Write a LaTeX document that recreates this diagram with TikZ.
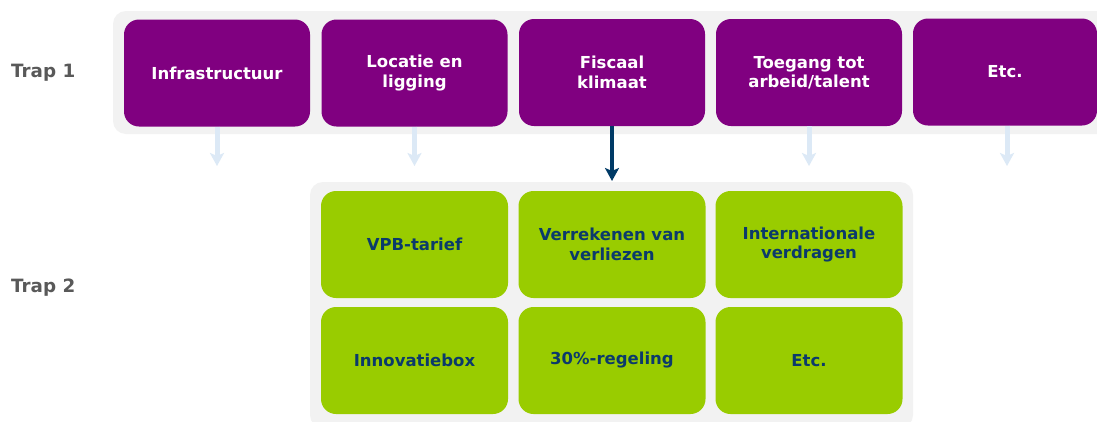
\documentclass[tikz,border=0pt]{standalone}
\usepackage{fontspec}
\setmainfont{DejaVu Sans}
\usetikzlibrary{arrows.meta}
\definecolor{purp}{HTML}{800080}
\definecolor{lgreen}{HTML}{99CC00}
\definecolor{panelgray}{HTML}{F2F2F2}
\definecolor{navy}{HTML}{0B3A6B}
\definecolor{lblue}{HTML}{DCE9F6}
\definecolor{dblue}{HTML}{003A66}
\definecolor{tgray}{HTML}{595959}
\begin{document}
\begin{tikzpicture}[x=1pt,y=-1pt,
  panelbox/.style={fill=panelgray, rounded corners=13pt},
  boxbase/.style={rounded corners=15pt, minimum height=107pt, inner sep=0pt, align=center,
    font=\fontsize{16.5}{19.5}\selectfont\bfseries},
  topbox/.style={boxbase, fill=purp, text=white, minimum width=186pt},
  greenbox/.style={boxbase, fill=lgreen, text=navy, minimum width=187pt},
  traplabel/.style={anchor=west, text=tgray, font=\fontsize{18.3}{22}\selectfont\bfseries, inner sep=0pt},
  lightarrow/.style={draw=lblue, line width=5pt, -{Stealth[length=13pt,width=14pt,inset=3pt]}},
  darkarrow/.style={draw=dblue, line width=3.5pt, -{Stealth[length=13pt,width=14pt,inset=3pt]}}
]
\useasboundingbox (0,0) rectangle (1097,421);
\clip (0,0) rectangle (1097,421);
\fill[white] (0,0) rectangle (1097,421);

% panels
\path[panelbox] (113,11) rectangle (1110,134);
\path[panelbox] (310,182) rectangle (913,428);

% labels
\node[traplabel] (t1) at (11,72.5) {Trap 1};
\node[traplabel] (t2) at (11,287.5) {Trap 2};

% top boxes
\node[topbox] (b1) at (217,73) {Infrastructuur};
\node[topbox] (b2) at (414.5,73) {Locatie en\\ligging};
\node[topbox] (b3) at (612,72.5) {Fiscaal\\klimaat};
\node[topbox] (b4) at (809,72.5) {Toegang tot\\arbeid/talent};
\node[topbox, minimum width=184pt] (b5) at (1005,72) {Etc.};

% green boxes
\node[greenbox] (g1) at (414.5,244.5) {VPB-tarief};
\node[greenbox] (g2) at (612,244.5) {Verrekenen van\\verliezen};
\node[greenbox] (g3) at (809,244.5) {Internationale\\verdragen};
\node[greenbox] (g4) at (414.5,360.5) {Innovatiebox};
\node[greenbox] (g5) at (612,360.5) {30\%-regeling};
\node[greenbox] (g6) at (809,360.5) {Etc.};

% arrow ends
\coordinate (a1) at (217,166);
\coordinate (a2) at (414.5,166);
\coordinate (a3) at (612,181);
\coordinate (a4) at (809,166);
\coordinate (a5) at (1007,166);

\draw[lightarrow] (b1.south) -- (a1);
\draw[lightarrow] (b2.south) -- (a2);
\draw[lightarrow] (b4.south) -- (a4);
\draw[lightarrow] (b5.south -| a5) -- (a5);
\draw[darkarrow] (b3.south) -- (a3);
\end{tikzpicture}
\end{document}
